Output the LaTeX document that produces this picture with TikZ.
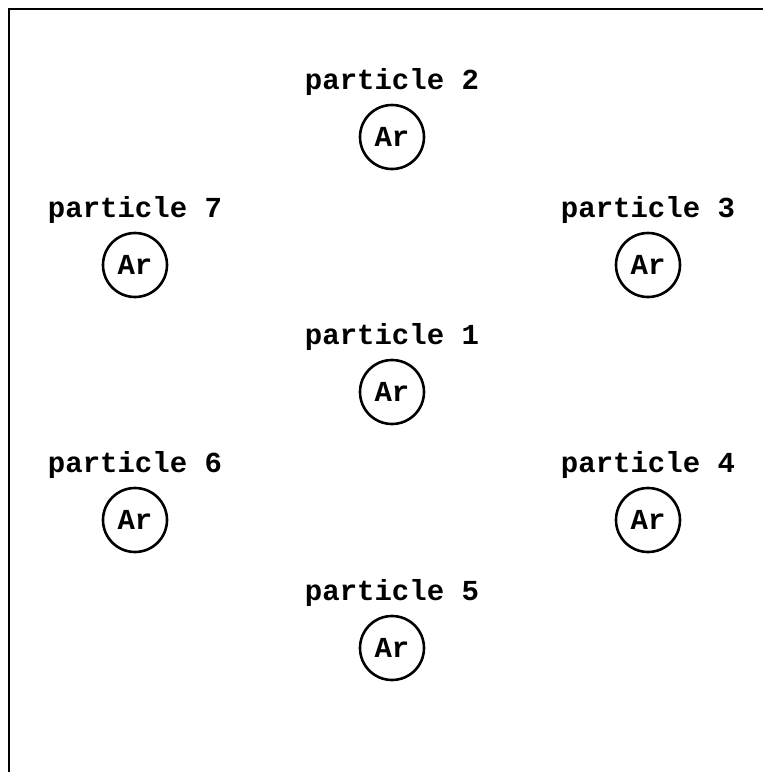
\documentclass[tikz,border=0pt]{standalone}
\usepackage{fontspec}
\setmonofont{Liberation Mono}
\tikzset{
  x=1pt, y=-1pt,
  atom/.style={circle, draw, line width=2.6pt, minimum size=64pt, inner sep=0pt, font=\ttfamily\bfseries\fontsize{29}{29}\selectfont},
  plabel/.style={anchor=base, inner sep=0pt, font=\ttfamily\bfseries\fontsize{29}{29}\selectfont}
}
\begin{document}
\begin{tikzpicture}
\useasboundingbox (0,0) rectangle (763,772);
\draw[line width=2pt] (9,772) -- (9,9) -- (763,9);
\foreach \n/\x/\y in {1/392/392, 2/392/137, 3/648/265, 4/648/520, 5/392/648, 6/135/520, 7/135/265} {
  \node[atom] (p\n) at (\x,\y) {Ar};
  \node[plabel] (l\n) at (\x,\y-48) {particle \n};
}
\end{tikzpicture}
\end{document}
